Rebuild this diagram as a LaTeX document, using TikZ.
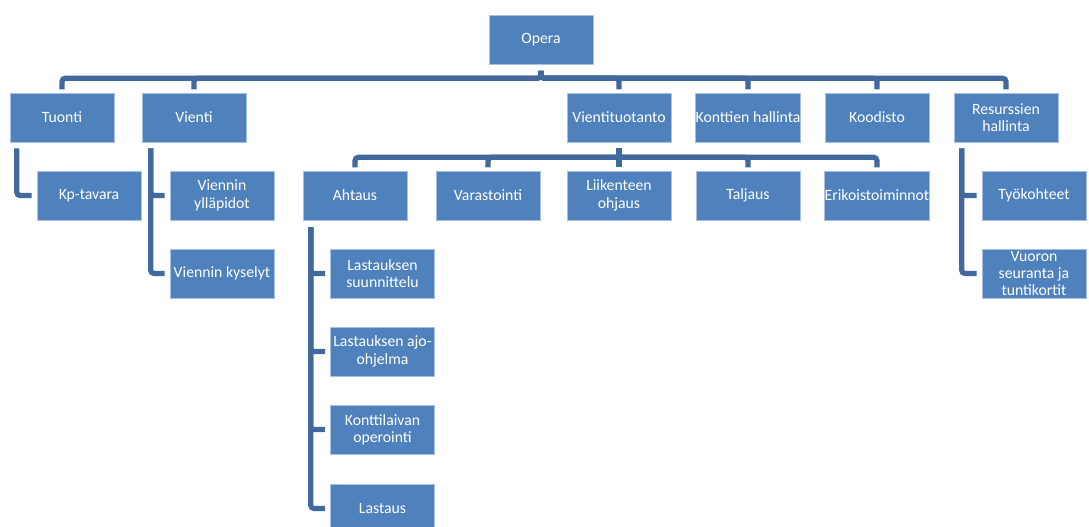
\documentclass[tikz,border=0pt]{standalone}
\usepackage{fontspec}
\setmainfont{Carlito}
\usetikzlibrary{calc}
\definecolor{boxblue}{HTML}{4F81BD}
\definecolor{linkblue}{HTML}{41699E}
\definecolor{edgeblue}{HTML}{A9C0DF}
\tikzset{
  orgbox/.style={rectangle, fill=boxblue, draw=edgeblue, line width=0.4pt,
    minimum width=78pt, minimum height=36.75pt, inner sep=0pt,
    text=white, align=center, font=\fontsize{11.8}{13}\selectfont},
  link/.style={draw=linkblue, line width=3.9pt, rounded corners=2.5pt},
}
\begin{document}
\begin{tikzpicture}[x=0.75pt,y=-0.75pt]
\useasboundingbox (0,0) rectangle (1089,526);
% level 0
\node[orgbox] (opera) at (541,39.5) {Opera};
% level 1
\node[orgbox] (tuonti) at (62,117.5) {Tuonti};
\node[orgbox] (vienti) at (194,117.5) {Vienti};
\node[orgbox] (vt) at (619,117.5) {Vientituotanto};
\node[orgbox] (kh) at (748,117.5) {Konttien hallinta};
\node[orgbox] (koodisto) at (877,117.5) {Koodisto};
\node[orgbox] (rh) at (1006,117.5) {Resurssien\\hallinta};
% level 2
\node[orgbox] (kp) at (89,195.5) {Kp-tavara};
\node[orgbox] (vy) at (222,195.5) {Viennin\\ylläpidot};
\node[orgbox] (vk) at (222,273.5) {Viennin kyselyt};
\node[orgbox] (ahtaus) at (355,195.5) {Ahtaus};
\node[orgbox] (var) at (488,195.5) {Varastointi};
\node[orgbox] (lo) at (619,195.5) {Liikenteen\\ohjaus};
\node[orgbox] (tal) at (748,195.5) {Taljaus};
\node[orgbox] (eri) at (877,195.5) {Erikoistoiminnot};
\node[orgbox] (tk) at (1034,195.5) {Työkohteet};
\node[orgbox] (vuoron) at (1034,273.5) {Vuoron\\seuranta ja\\tuntikortit};
% level 3
\node[orgbox] (ls) at (382.5,273.5) {Lastauksen\\suunnittelu};
\node[orgbox] (la) at (382.5,351.5) {Lastauksen ajo-\\ohjelma};
\node[orgbox] (ko) at (382.5,429.5) {Konttilaivan\\operointi};
\node[orgbox] (lastaus) at (382.5,508.5) {Lastaus};
% top connectors
\foreach \c in {tuonti,vienti,vt,kh,koodisto,rh}{
  \draw[link, shorten <=5pt, shorten >=2.5pt] (opera.south) -- ++(0,14) -| (\c.north);
}
% vientituotanto connectors
\foreach \c in {ahtaus,var,lo,tal,eri}{
  \draw[link, shorten <=4.5pt, shorten >=2.5pt] (vt.south) -- ++(0,15) -| (\c.north);
}
% vertical lists
\draw[link, shorten >=3.8pt] ($(tuonti.south west)+(7,6)$) |- (kp.west);
\foreach \c in {vy,vk}{
  \draw[link, shorten >=3.8pt] ($(vienti.south west)+(9,6)$) |- (\c.west);
}
\foreach \c in {ls,la,ko,lastaus}{
  \draw[link, shorten >=3.8pt] ($(ahtaus.south west)+(8,7)$) |- (\c.west);
}
\foreach \c in {tk,vuoron}{
  \draw[link, shorten >=3.8pt] ($(rh.south west)+(8,6)$) |- (\c.west);
}
\end{tikzpicture}
\end{document}
